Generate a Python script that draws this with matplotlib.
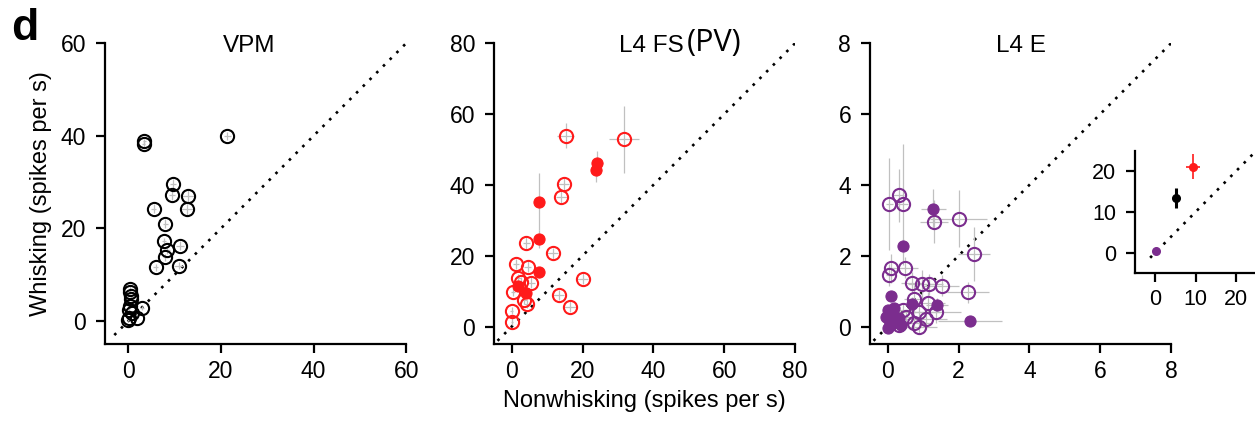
import numpy as np
import matplotlib
matplotlib.use('Agg')
import matplotlib.pyplot as plt

plt.rcParams['font.family'] = ['Liberation Sans', 'DejaVu Sans']

# VPM (open black circles): nonwhisking, whisking, error
vpm_x = [3.3, 3.5, 21.4, 9.7, 9.4, 12.9, 12.7, 5.5, 8.0, 7.7, 8.4, 8.0, 11.2, 5.9, 10.9,
         0.4, 0.4, 0.5, 0.4, 0.1, 3.0, 1.9, 0.1, 0.0, 0.9, 0.5]
vpm_y = [38.2, 38.8, 40.0, 29.6, 27.2, 27.0, 24.1, 24.3, 21.0, 17.2, 15.4, 13.8, 16.3, 11.6, 12.0,
         7.0, 6.2, 4.7, 3.3, 2.5, 2.9, 0.7, 0.7, 0.2, 1.8, 5.4]
vpm_xerr = [0.4, 0.4, 0.8, 0.6, 0.6, 1.2, 1.4, 0.5, 0.6, 0.5, 0.6, 0.6, 0.8, 0.6, 1.0,
            0.2, 0.2, 0.2, 0.2, 0.1, 0.4, 0.3, 0.1, 0.1, 0.2, 0.2]
vpm_yerr = [0.6, 0.6, 0.8, 1.0, 1.0, 1.2, 1.2, 1.0, 1.0, 0.8, 0.8, 0.8, 1.0, 0.8, 0.8,
            0.5, 0.5, 0.4, 0.4, 0.3, 0.4, 0.3, 0.2, 0.2, 0.3, 0.4]

# L4 FS (PV), open and filled red circles
fs_open_x = [15.2, 31.7, 14.7, 14.0, 4.1, 11.6, 20.0, 13.3, 16.4, 1.2, 4.5, 1.9, 2.6, 5.5,
             0.3, 3.6, 4.3, 0.0, 0.1]
fs_open_y = [53.9, 52.9, 40.2, 36.7, 23.5, 20.7, 13.5, 8.9, 5.6, 17.7, 16.9, 13.6, 12.7, 12.4,
             9.7, 7.5, 6.4, 4.5, 1.4]
fs_open_xerr = [2.5, 4.3, 1.5, 1.5, 1.0, 1.5, 1.5, 1.5, 2.0, 0.8, 1.0, 0.8, 0.8, 1.0,
                0.5, 0.8, 0.8, 0.4, 0.4]
fs_open_yerr = [3.5, 9.5, 2.0, 2.0, 2.0, 1.5, 1.5, 1.5, 1.5, 1.5, 1.5, 1.2, 1.2, 1.5,
                1.2, 1.2, 1.2, 1.0, 1.0]
fs_fill_x = [24.2, 23.9, 7.6, 7.6, 7.6, 1.7, 3.9]
fs_fill_y = [46.1, 44.2, 35.3, 24.7, 15.3, 11.5, 9.6]
fs_fill_xerr = [1.5, 1.5, 0.5, 0.5, 0.5, 0.4, 0.4]
fs_fill_yerr = [3.5, 3.5, 8.0, 2.5, 1.5, 1.0, 1.0]

# L4 E, open and filled purple circles
e_open_x = [0.31, 0.05, 0.42, 1.31, 2.0, 2.44, 0.09, 0.05, 0.5, 0.68, 0.98, 1.17, 1.52, 2.27,
            0.75, 1.13, 0.89, 1.36, 1.08, 0.75, 0.89, 0.33, 0.52, 0.19, 0.42]
e_open_y = [3.71, 3.45, 3.45, 2.96, 3.05, 2.05, 1.64, 1.46, 1.66, 1.24, 1.19, 1.19, 1.15, 0.97,
            0.78, 0.68, 0.42, 0.40, 0.21, 0.11, 0.0, 0.05, 0.28, 0.19, 0.47]
e_open_xerr = [0.15, 0.1, 0.15, 0.4, 0.8, 0.45, 0.1, 0.1, 0.35, 0.3, 0.4, 0.4, 0.5, 0.6,
               0.3, 0.5, 0.6, 0.7, 0.6, 0.5, 0.5, 0.2, 0.3, 0.2, 0.3]
e_open_yerr = [0.75, 1.3, 1.7, 0.6, 0.8, 0.75, 0.4, 0.3, 0.3, 0.3, 0.4, 0.3, 0.3, 0.3,
               0.4, 0.3, 0.3, 0.3, 0.3, 0.2, 0.2, 0.2, 0.2, 0.2, 0.2]
e_fill_x = [1.29, 0.42, 0.08, 0.70, 1.39, 2.33, 0.0, 0.05, 0.14, 0.23, 0.0, 0.33, 0.09, 0.19, 0.38, -0.05]
e_fill_y = [3.33, 2.27, 0.85, 0.64, 0.61, 0.17, -0.05, 0.19, 0.33, 0.14, 0.47, 0.23, 0.05, 0.52, 0.05, 0.28]
e_fill_xerr = [0.35, 0.1, 0.05, 0.2, 0.3, 0.9, 0.1, 0.1, 0.1, 0.1, 0.1, 0.15, 0.1, 0.1, 0.2, 0.1]
e_fill_yerr = [0.55, 0.2, 0.1, 0.2, 0.2, 0.1, 0.1, 0.1, 0.1, 0.1, 0.1, 0.1, 0.1, 0.1, 0.1, 0.1]

# inset: population means (L4 E, VPM, L4 FS)
inset_x = [0.3, 5.2, 9.3]
inset_y = [0.4, 13.4, 21.1]
inset_xerr = [0.2, 0.5, 1.7]
inset_yerr = [0.2, 2.5, 3.1]

purple = '#7b2d8e'
red = '#ff1a1a'
errc = '#c0c0c0'


def style_axes(ax, lo, hi, ticks, fs=16.5):
    ax.set_xlim(lo, hi)
    ax.set_ylim(lo, hi)
    for s in ['top', 'right']:
        ax.spines[s].set_visible(False)
    for s in ['left', 'bottom']:
        ax.spines[s].set_linewidth(1.6)
    ax.set_xticks(ticks)
    ax.set_yticks(ticks)
    ax.tick_params(direction='out', length=6.5, width=1.6, labelsize=fs)
    ax.tick_params(axis='x', pad=5)
    ax.tick_params(axis='y', pad=7)
    # unity line
    ax.plot([-0.05 * hi, hi], [-0.05 * hi, hi], color='black',
            linestyle=(0, (1, 2.6)), lw=1.9, zorder=1)


def circles(ax, x, y, xe, ye, color, filled):
    ax.errorbar(x, y, xerr=xe, yerr=ye, fmt='none', ecolor=errc, elinewidth=0.9, zorder=2)
    if filled:
        ax.plot(x, y, 'o', ms=8.0, mfc=color, mec=color, mew=0.8,
                linestyle='none', zorder=3)
    else:
        ax.plot(x, y, 'o', ms=9.5, mfc='none', mec=color, mew=1.5,
                linestyle='none', zorder=3)


fig = plt.figure(figsize=(12.55, 4.23), dpi=100)
w, h, b = 0.240, 0.712, 0.186
ax1 = fig.add_axes([0.0837, b, w, h])
ax2 = fig.add_axes([0.3936, b, w, h])
ax3 = fig.add_axes([0.6932, b, w, h])

# VPM
style_axes(ax1, -5, 60, [0, 20, 40, 60])
circles(ax1, vpm_x, vpm_y, vpm_xerr, vpm_yerr, 'black', False)
ax1.text(0.48, 0.99, 'VPM', transform=ax1.transAxes, ha='center', va='center', fontsize=17.5)
ax1.set_ylabel('Whisking (spikes per s)', fontsize=17, labelpad=6)

# L4 FS
style_axes(ax2, -5, 80, [0, 20, 40, 60, 80])
circles(ax2, fs_open_x, fs_open_y, fs_open_xerr, fs_open_yerr, red, False)
circles(ax2, fs_fill_x, fs_fill_y, fs_fill_xerr, fs_fill_yerr, red, True)
ax2.text(0.63, 0.99, 'L4 FS', transform=ax2.transAxes, ha='right', va='center', fontsize=17.5)
ax2.text(0.64, 1.0, '(PV)', transform=ax2.transAxes, ha='left', va='center', fontsize=22,
         family=['Open Sans', 'DejaVu Sans'])
ax2.set_xlabel('Nonwhisking (spikes per s)', fontsize=17, labelpad=5)

# L4 E
style_axes(ax3, -0.5, 8, [0, 2, 4, 6, 8])
circles(ax3, e_open_x, e_open_y, e_open_xerr, e_open_yerr, purple, False)
circles(ax3, e_fill_x, e_fill_y, e_fill_xerr, e_fill_yerr, purple, True)
ax3.text(0.5, 0.99, 'L4 E', transform=ax3.transAxes, ha='center', va='center', fontsize=17.5)

# inset
axi = fig.add_axes([0.9044, 0.3546, 0.0964, 0.2884])
style_axes(axi, -5, 25, [0, 10, 20], fs=15.5)
for xi, yi, xe, ye, c, lw in zip(inset_x, inset_y, inset_xerr, inset_yerr,
                                 [purple, 'black', red], [1.0, 2.2, 1.2]):
    axi.errorbar([xi], [yi], xerr=[xe], yerr=[ye], fmt='o', color=c, ms=5.5,
                 elinewidth=lw, capsize=0, zorder=3)

fig.text(0.009, 0.982, 'd', fontsize=32, fontweight='bold', ha='left', va='top')

fig.savefig('out.png', dpi=100)
